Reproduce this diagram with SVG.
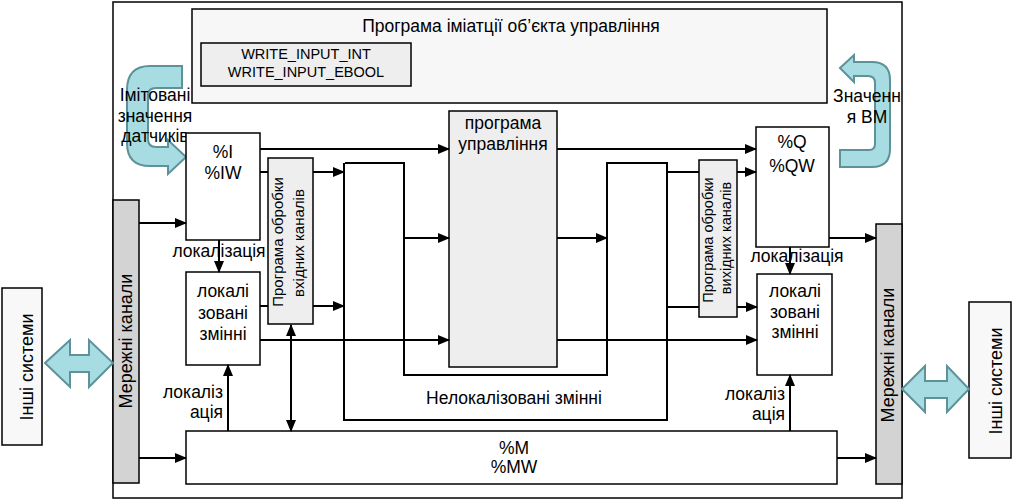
<svg xmlns="http://www.w3.org/2000/svg" width="1012" height="500" viewBox="0 0 1012 500">
<style>
text{font-family:"Liberation Sans",Arial,sans-serif;font-size:17.5px;fill:#000}
.c{text-anchor:middle}
.e{text-anchor:end}
.box{fill:#fff;stroke:#000;stroke-width:1.5}
.gbox{fill:#eeeeee;stroke:#000;stroke-width:1.5}
.net{fill:#d3d3d3;stroke:#000;stroke-width:1.5}
.big{fill:#a6dce2;stroke:#5e9299;stroke-width:2}
.ln{fill:none;stroke:#000;stroke-width:2}
.sm{font-size:15px}
.sm2{font-size:14.5px}
.wi{font-size:14.5px}
.rt{font-size:18px}
</style>
<defs>
<marker id="ah" markerUnits="userSpaceOnUse" markerWidth="12" markerHeight="10" refX="11" refY="5" orient="auto-start-reverse">
<path d="M0,0 L12,5 L0,10 Z" fill="#000"/>
</marker>
</defs>
<rect x="0" y="0" width="1012" height="500" fill="#fff"/>
<g id="frame"><rect x="113" y="2" width="789" height="496" fill="#fff" stroke="#000" stroke-width="1.5"/></g>

<g id="sim-program">
<rect x="192" y="9" width="635" height="94" fill="#f7f7f7" stroke="#000" stroke-width="1.5"/>
<text class="c" x="511" y="32">Програма іміатції об’єкта управління</text>
</g>
<g id="write-input">
<rect class="gbox" x="201" y="43" width="210" height="43"/>
<text class="c wi" x="306" y="59">WRITE_INPUT_INT</text>
<text class="c wi" x="306" y="77">WRITE_INPUT_EBOOL</text>
</g>

<g id="sim-arrow-left">
<path class="big" d="M182,66 L150,66 Q127,66 127,90 L127,143 Q127,166 150,166 L168,166 L168,174 L186,157 L168,140 L168,147 L156,147 Q148,147 148,139 L148,95 Q148,88 156,88 L182,88 Z"/>
<text class="c" x="155" y="101">Імітовані</text>
<text class="c" x="155" y="122">значення</text>
<text class="c" x="155" y="142">датчиків</text>
</g>

<g id="sim-arrow-right">
<path class="big" d="M840,68 L854,55 L854,62 L872,62 Q890,62 890,80 L890,149 Q890,167 872,167 L840,167 L840,150 L869,150 Q875,150 875,144 L875,83 Q875,76 868,76 L854,76 L854,82 Z"/>
<text class="c" x="867" y="102">Значенн</text>
<text class="c" x="867" y="123">я ВМ</text>
</g>

<g id="net-left">
<rect class="net" x="113" y="200" width="26" height="283"/>
<text class="c rt" transform="translate(132,341) rotate(-90)">Мережні канали</text>
</g>
<g id="net-right">
<rect class="net" x="876" y="224" width="26" height="260"/>
<text class="c rt" transform="translate(894,355) rotate(-90)">Мережні канали</text>
</g>
<g id="other-left">
<rect x="2" y="288" width="40" height="157" fill="#f8f8f8" stroke="#000" stroke-width="1.5"/>
<text class="c rt" transform="translate(33,367) rotate(-90)">Інші системи</text>
</g>
<g id="other-right">
<rect x="969" y="302" width="42" height="156" fill="#f8f8f8" stroke="#000" stroke-width="1.5"/>
<text class="c rt" transform="translate(1002,381) rotate(-90)">Інші системи</text>
</g>
<g id="link-left">
<path class="big" d="M45,363 L70,340 L70,355 L89,355 L89,340 L113,363 L89,387 L89,372 L70,372 L70,387 Z"/>
</g>
<g id="link-right">
<path class="big" d="M902,389 L925,366 L925,381 L947,381 L947,366 L969,389 L947,412 L947,398 L925,398 L925,412 Z"/>
</g>

<g id="in-io">
<rect class="box" x="186" y="133" width="74" height="107"/>
<text class="c" x="223" y="158">%I</text>
<text class="c" x="223" y="179">%IW</text>
</g>
<g id="in-local">
<rect class="box" x="186" y="272" width="74" height="93"/>
<text class="c" x="223" y="297">локалі</text>
<text class="c" x="223" y="319">зовані</text>
<text class="c" x="223" y="340">змінні</text>
</g>
<g id="in-proc">
<rect class="gbox" x="268" y="158" width="45" height="166"/>
<text class="c sm" transform="translate(283,242) rotate(-90)">Програма обробки</text>
<text class="c sm" transform="translate(304,243) rotate(-90)">вхідних каналів</text>
</g>
<g id="control-program">
<rect class="gbox" x="449" y="111" width="108" height="256"/>
<text class="c" x="503" y="129">програма</text>
<text class="c" x="503" y="150">управління</text>
</g>
<g id="out-proc">
<rect class="gbox" x="699" y="160" width="38" height="157"/>
<text class="c sm2" transform="translate(713,240) rotate(-90)">Програма обробки</text>
<text class="c sm2" transform="translate(731,238) rotate(-90)">вихідних каналів</text>
</g>
<g id="out-io">
<rect class="box" x="756" y="127" width="73" height="120"/>
<text class="c" x="792" y="148">%Q</text>
<text class="c" x="792" y="172">%QW</text>
</g>
<g id="out-local">
<rect class="box" x="757" y="274" width="75" height="101"/>
<text class="c" x="795" y="297">локалі</text>
<text class="c" x="795" y="318">зовані</text>
<text class="c" x="795" y="338">змінні</text>
</g>
<g id="memory">
<rect class="box" x="186" y="431" width="651" height="53"/>
<text class="c" x="514" y="454">%M</text>
<text class="c" x="514" y="473">%MW</text>
</g>
<g id="nonlocal-label">
<text class="c" x="514" y="404">Нелокалізовані змінні</text>
</g>

<g id="connectors">
<path class="ln" d="M345,163 H404 V375 H607 V163 H667 V420 H344 V163"/>
<path class="ln" d="M139,223 H186" marker-end="url(#ah)"/>
<path class="ln" d="M260,149 H449" marker-end="url(#ah)"/>
<path class="ln" d="M260,172 H268"/>
<path class="ln" d="M313,172 H344" marker-end="url(#ah)"/>
<path class="ln" d="M219,240 V272" marker-end="url(#ah)"/>
<path class="ln" d="M260,306 H268"/>
<path class="ln" d="M313,306 H344" marker-end="url(#ah)"/>
<path class="ln" d="M260,340 H449" marker-end="url(#ah)"/>
<path class="ln" d="M228,431 V365" marker-end="url(#ah)"/>
<path class="ln" d="M291,325 V431" marker-start="url(#ah)" marker-end="url(#ah)"/>
<path class="ln" d="M139,458 H186" marker-end="url(#ah)"/>
<path class="ln" d="M404,238 H449" marker-end="url(#ah)"/>
<path class="ln" d="M557,149 H756" marker-end="url(#ah)"/>
<path class="ln" d="M557,238 H607" marker-end="url(#ah)"/>
<path class="ln" d="M557,340 H757" marker-end="url(#ah)"/>
<path class="ln" d="M667,172 H699"/>
<path class="ln" d="M737,172 H756" marker-end="url(#ah)"/>
<path class="ln" d="M667,307 H699"/>
<path class="ln" d="M737,307 H757" marker-end="url(#ah)"/>
<path class="ln" d="M790,247 V274" marker-end="url(#ah)"/>
<path class="ln" d="M829,238 H876" marker-end="url(#ah)"/>
<path class="ln" d="M790,431 V375" marker-end="url(#ah)"/>
<path class="ln" d="M837,458 H876" marker-end="url(#ah)"/>
</g>

<g id="labels">
<text class="c" x="219" y="257">локалізація</text>
<text class="e" x="223" y="398">локаліз</text>
<text class="e" x="223" y="418">ація</text>
<text class="c" x="797" y="262">локалізація</text>
<text class="e" x="785" y="400">локаліз</text>
<text class="e" x="785" y="420">ація</text>
</g>
</svg>
